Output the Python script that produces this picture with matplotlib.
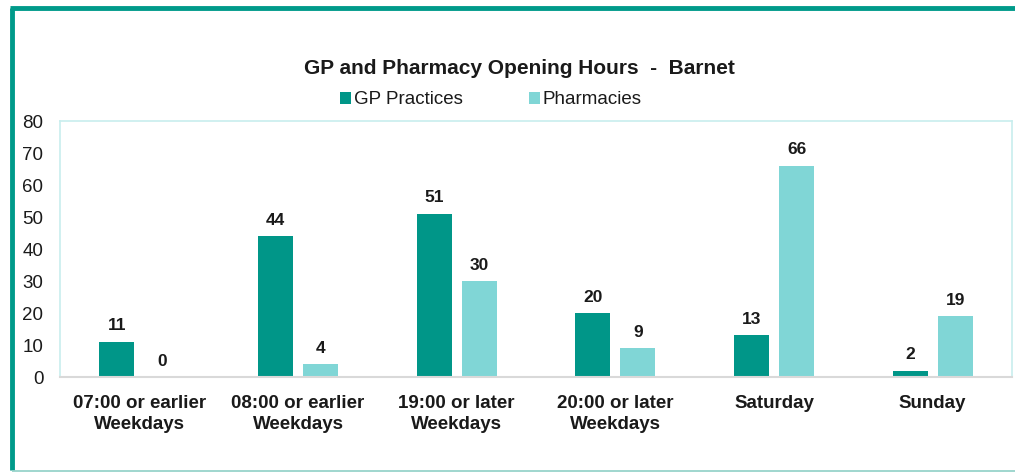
import matplotlib
matplotlib.use("Agg")
import matplotlib.pyplot as plt
import numpy as np
from matplotlib.lines import Line2D

plt.rcParams['font.family'] = ['Liberation Sans', 'DejaVu Sans']

categories = ["07:00 or earlier\nWeekdays", "08:00 or earlier\nWeekdays", "19:00 or later\nWeekdays",
              "20:00 or later\nWeekdays", "Saturday", "Sunday"]
gp_values = [11, 44, 51, 20, 13, 2]
pharm_values = [0, 4, 30, 9, 66, 19]
series_names = ["GP Practices", "Pharmacies"]
yticks = [0, 10, 20, 30, 40, 50, 60, 70, 80]

gp_color = "#009688"
ph_color = "#80d6d6"

W, H = 1015, 472
fig = plt.figure(figsize=(W / 100, H / 100), dpi=100)
ax = fig.add_axes([60 / W, 1 - 377 / H, 952 / W, 256 / H])

x = np.arange(len(categories))
bw = 0.22
off = 0.142
b1 = ax.bar(x - off, gp_values, bw, color=gp_color, label=series_names[0])
b2 = ax.bar(x + off, pharm_values, bw, color=ph_color, label=series_names[1])

for bars, vals in ((b1, gp_values), (b2, pharm_values)):
    for r, v in zip(bars, vals):
        ax.annotate(str(v), (r.get_x() + r.get_width() / 2, v), xytext=(0, 6),
                    textcoords="offset points", ha="center", va="bottom",
                    fontsize=12.5, fontweight="bold", color="#1a1a1a")

ax.set_xlim(-0.5, len(categories) - 0.5)
ax.set_ylim(0, 80)
ax.set_yticks(yticks)
ax.set_xticks(x)
ax.set_xticklabels(categories, fontsize=13.5, fontweight="bold", color="#1a1a1a", linespacing=1.32)
ax.tick_params(axis="y", length=0, labelsize=13.5, labelcolor="#1a1a1a", pad=12)
ax.tick_params(axis="x", length=0, pad=13)
for s in ("left", "top", "right"):
    ax.spines[s].set_color("#c8eeee")
    ax.spines[s].set_linewidth(1.2)
ax.spines["bottom"].set_color("#d9d9d9")
ax.spines["bottom"].set_linewidth(1.5)

fig.text(519 / W, 1 - 68 / H, "GP and Pharmacy Opening Hours  -  Barnet", ha="center", va="center",
         fontsize=15, fontweight="bold", color="#1a1a1a")

leg = fig.legend(handles=[b1, b2], labels=series_names, loc="center", bbox_to_anchor=(491 / W, 1 - 100 / H),
                 ncol=2, frameon=False, fontsize=13.5, handlelength=0.6, handleheight=0.6,
                 handletextpad=0.15, columnspacing=3.5)
for t in leg.get_texts():
    t.set_color("#1a1a1a")

# border lines
fig.add_artist(Line2D([12 / W, 12 / W], [1 - 470 / H, 1 - 8 / H], color="#009a8a", lw=3.5,
                      transform=fig.transFigure, solid_capstyle="butt"))
fig.add_artist(Line2D([10 / W, 1.0], [1 - 8 / H, 1 - 8 / H], color="#009a8a", lw=3.5,
                      transform=fig.transFigure, solid_capstyle="butt"))
fig.add_artist(Line2D([12 / W, 1.0], [1 - 470.5 / H, 1 - 470.5 / H], color="#8fd0c6", lw=1.2,
                      transform=fig.transFigure, solid_capstyle="butt"))

fig.savefig("out.png", dpi=100, facecolor="white")
